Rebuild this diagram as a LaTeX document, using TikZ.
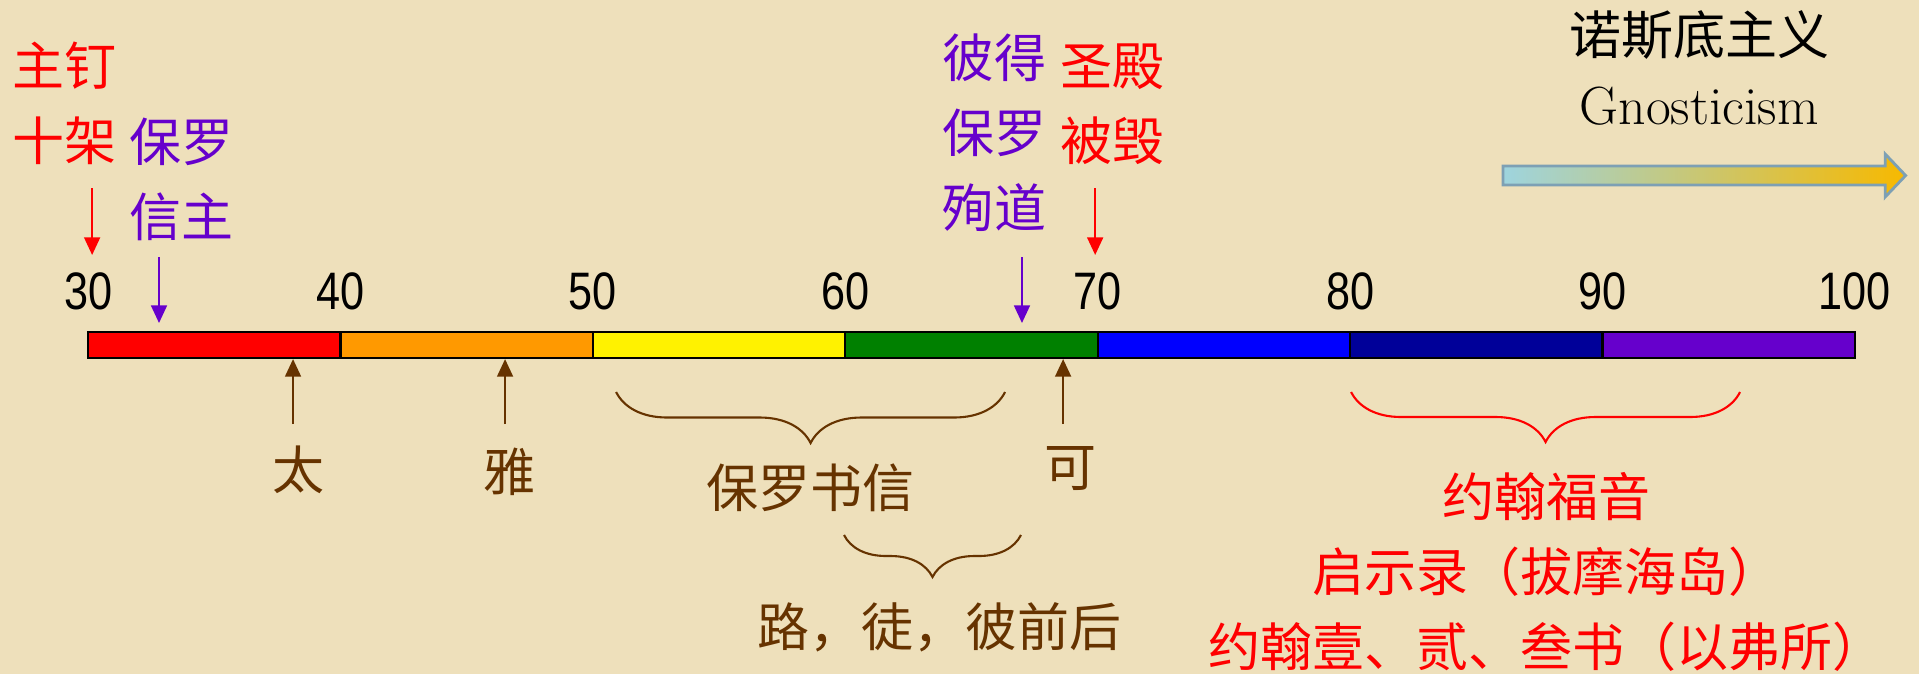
\documentclass[tikz,border=0pt]{standalone}
\usepackage{fontspec}
\usepackage{graphicx}
\usepackage{tikz}
\usetikzlibrary{
	arrows.meta,
	decorations.pathreplacing,
	positioning
}
\newfontfamily\cjk{Noto Sans CJK SC}
\newfontfamily\numfont{Liberation Sans}
\definecolor{Parchment}{RGB}{238,224,187}
\definecolor{BarOrange}{RGB}{255,153,0}
\definecolor{BarGreen}{RGB}{0,128,0}
\definecolor{BarNavy}{RGB}{0,0,153}
\definecolor{Violet}{RGB}{102,0,204}
\definecolor{Umber}{RGB}{102,51,0}
\definecolor{GnosBlue}{RGB}{158,212,222}
\definecolor{GnosGold}{RGB}{247,185,0}
\definecolor{GnosEdge}{RGB}{125,160,180}

\tikzset{
	cjktext/.style={font={\cjk\fontsize{14.8pt}{21.3pt}\selectfont}, inner sep=0pt, align=center},
	numtext/.style={font={\numfont\fontsize{15pt}{18pt}\selectfont}, inner sep=0pt},
	segment/.style={draw=black, line width=0.6pt, minimum width=2.524cm, minimum height=0.26cm, inner sep=0pt},
	downarr/.style={-{Triangle[width=4.5pt,length=5pt]}, line width=0.6pt},
	uparr/.style={-{Triangle[width=4.5pt,length=5pt]}, line width=0.6pt, Umber},
	bracket/.style={decorate, line width=0.6pt}
}

\begin{document}
\begin{tikzpicture}[x=2.524mm, y=1cm]
		% 背景
		\useasboundingbox (26.51,0) rectangle (102.54,6.74);
		\fill[Parchment] (26.51,0) rectangle (102.54,6.74);
		
		% 时间轴
		\foreach \yr/\col in {30/red, 40/BarOrange, 50/yellow, 60/BarGreen, 70/blue, 80/BarNavy, 90/Violet}
			\node[segment, fill=\col] (seg\yr) at ({\yr+5},3.29) {};
		\foreach \yr in {30,40,...,100}
			\node[numtext] (n\yr) at (\yr,3.83) {\scalebox{0.82}[1]{\yr}};
		
		% 上方事件
		\node[cjktext, red] (nail) at (29.05,5.71) {主钉\\十架};
		\node[cjktext, Violet] (convert) at (33.72,4.95) {保罗\\信主};
		\node[cjktext, Violet] (martyr) at (65.90,5.41) {彼得\\保罗\\殉道};
		\node[cjktext, red] (temple) at (70.57,5.695) {圣殿\\被毁};
		
		\coordinate (nailTop) at (30.16,4.86);
		\coordinate (nailTip) at (30.16,4.19);
		\coordinate (convTop) at (32.81,4.17);
		\coordinate (convTip) at (32.81,3.51);
		\coordinate (martTop) at (67.00,4.17);
		\coordinate (martTip) at (67.00,3.51);
		\coordinate (templeTop) at (69.90,4.86);
		\coordinate (templeTip) at (69.90,4.19);
		\draw[downarr, red] (nailTop) -- (nailTip);
		\draw[downarr, Violet] (convTop) -- (convTip);
		\draw[downarr, Violet] (martTop) -- (martTip);
		\draw[downarr, red] (templeTop) -- (templeTip);
		
		% 诺斯底主义
		\node[cjktext] (gnosZh) at (93.83,6.39) {诺斯底主义};
		\node[anchor=base, inner sep=0pt, font=\fontsize{15.3pt}{18pt}\selectfont] (gnosEn) at (93.83,5.50) {Gnosticism};
		\shadedraw[left color=GnosBlue, right color=GnosGold, draw=GnosEdge, line width=0.8pt]
			(86.06,5.08) -- (101.20,5.08) -- (101.20,5.20) -- (102.01,4.985)
			-- (101.20,4.77) -- (101.20,4.89) -- (86.06,4.89) -- cycle;
		
		% 福音书
		\node[cjktext, Umber] (tai) at (38.32,2.04) {太};
		\node[cjktext, Umber] (ya) at (46.68,2.02) {雅};
		\node[cjktext, Umber] (ke) at (68.91,2.05) {可};
		\coordinate (taiFoot) at (38.12,2.50);
		\coordinate (yaFoot) at (46.52,2.50);
		\coordinate (keFoot) at (68.63,2.50);
		\draw[uparr] (taiFoot) -- (taiFoot |- seg30.south);
		\draw[uparr] (yaFoot) -- (yaFoot |- seg40.south);
		\draw[uparr] (keFoot) -- (keFoot |- seg60.south);
		
		% 保罗书信
		\coordinate (paulL) at (50.92,2.82);
		\coordinate (paulR) at (66.33,2.82);
		\draw[bracket, Umber, decoration={brace, amplitude=0.51cm}] (paulR) -- (paulL);
		\node[cjktext, Umber] (pauline) at (58.61,1.86) {保罗书信};
		
		\coordinate (lukeL) at (59.95,1.39);
		\coordinate (lukeR) at (66.96,1.39);
		\draw[bracket, Umber, decoration={brace, amplitude=0.42cm}] (lukeR) -- (lukeL);
		\node[cjktext, Umber] (acts) at (63.72,0.47) {路，徒，彼前后};
		
		% 约翰著作
		\coordinate (johnL) at (80.04,2.82);
		\coordinate (johnR) at (95.45,2.82);
		\draw[bracket, red, decoration={brace, amplitude=0.50cm}] (johnR) -- (johnL);
		\node[cjktext, red] (johannine) at (87.77,1.02) {约翰福音\\启示录（拔摩海岛）\\约翰壹、贰、叁书（以弗所）};
	\end{tikzpicture}
\end{document}
